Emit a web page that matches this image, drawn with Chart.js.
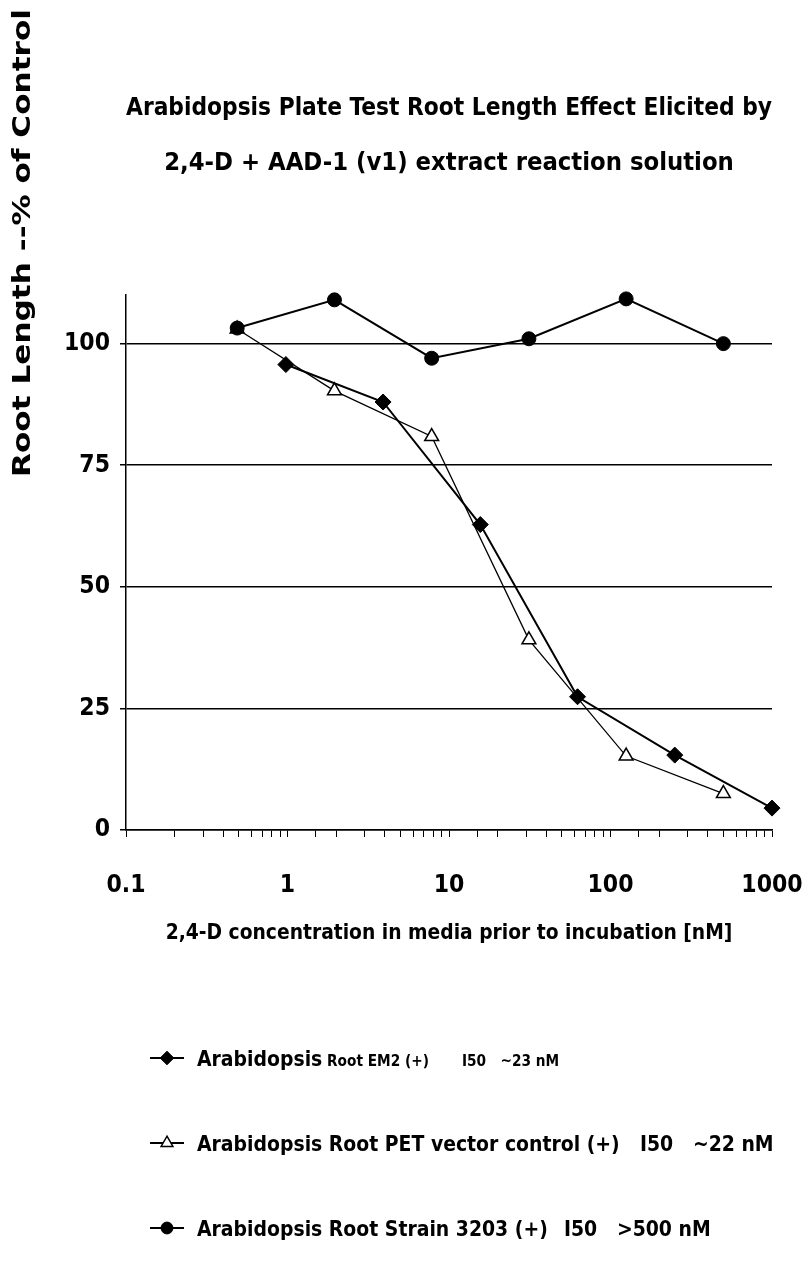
<!DOCTYPE html>
<html><head><meta charset="utf-8">
<script src="https://cdn.jsdelivr.net/npm/chart.js@4"></script>
<style>html,body{margin:0;padding:0;background:#fff}#wrap{width:803px;height:1268px}</style>
</head><body><div id="wrap"><canvas id="c" width="803" height="1268"></canvas></div>
<script>
// ---------- data ----------
const chartTitle = ['Arabidopsis Plate Test Root Length Effect Elicited by', '2,4-D + AAD-1 (v1) extract reaction solution'];
const yAxisTitle = 'Root Length --% of Control';
const xAxisTitle = '2,4-D concentration in media prior to incubation [nM]';
const xTickLabels = ['0.1', '1', '10', '100', '1000'];
const yTickValues = [0, 25, 50, 75, 100];
const seriesNames = ['Arabidopsis Root EM2 (+)', 'Arabidopsis Root PET vector control (+)', 'Arabidopsis Root Strain 3203 (+)'];
const seriesI50 = ['I50   ~23 nM', 'I50   ~22 nM', 'I50   >500 nM'];

const concEM2 = [0.977, 3.906, 15.625, 62.5, 250, 1000];
const rootEM2 = [95.7, 88, 62.8, 27.4, 15.4, 4.5];
const concPET = [0.488, 1.953, 7.8125, 31.25, 125, 500];
const rootPET = [103, 90.3, 80.9, 39.1, 15.2, 7.5];
const concStrain = [0.488, 1.953, 7.8125, 31.25, 125, 500];
const rootStrain = [103.2, 109, 97, 101, 109.2, 100];

// ---------- styling ----------
const NARROW = "'Liberation Sans Narrow','Arial Narrow','DejaVu Sans Condensed',sans-serif";
const pts = (xs, ys) => xs.map((x, i) => ({x: x, y: ys[i]}));
const mctx = document.createElement('canvas').getContext('2d');
function fitSize(text, target, family) {
  mctx.font = 'bold 100px ' + (family || NARROW);
  return 100 * target / mctx.measureText(text).width;
}
const titleSize = fitSize(chartTitle[1], 570);
const xTitleSize = fitSize(xAxisTitle, 567);
const tickSize = fitSize('100', 46);
const legendBig = fitSize(seriesNames[1], 423);
const legendSmall = fitSize('Root EM2 (+)', 102);

const refDecor = {
  id: 'refDecor',
  afterDraw(chart, args, opts) {
    const ctx = chart.ctx;
    // rotated y axis title (stretched along its length like the reference)
    ctx.save();
    ctx.font = 'bold 24px "DejaVu Sans"';
    ctx.fillStyle = '#000';
    const natural = ctx.measureText(yAxisTitle).width;
    ctx.translate(opts.yTitleX, opts.yTitleY);
    ctx.rotate(-Math.PI / 2);
    ctx.scale(opts.yTitleLength / natural, 1);
    ctx.textAlign = 'center';
    ctx.textBaseline = 'middle';
    ctx.fillText(yAxisTitle, 0, 0);
    ctx.restore();

    // legend
    chart.data.datasets.forEach((ds, i) => {
      const y = opts.rowY[i];
      ctx.save();
      ctx.strokeStyle = '#000';
      ctx.lineWidth = 2;
      ctx.beginPath();
      ctx.moveTo(opts.symX0, y);
      ctx.lineTo(opts.symX1, y);
      ctx.stroke();
      ctx.fillStyle = ds.pointBackgroundColor;
      ctx.strokeStyle = '#000';
      ctx.lineWidth = ds.pointBorderWidth;
      Chart.helpers.drawPoint(ctx, {pointStyle: ds.pointStyle, radius: ds.pointRadius * 0.85, borderWidth: ds.pointBorderWidth, rotation: 0}, (opts.symX0 + opts.symX1) / 2, y);
      ctx.fillStyle = '#000';
      ctx.textAlign = 'left';
      ctx.textBaseline = 'alphabetic';
      const base = y + opts.baseOffset;
      const label = ds.label;
      const sp = label.indexOf(' ');
      const first = label.slice(0, sp), rest = label.slice(sp);
      ctx.font = 'bold ' + legendBig + 'px ' + NARROW;
      ctx.fillText(first, opts.textX, base);
      const w = ctx.measureText(first).width;
      const sz = opts.smallRest[i] ? legendSmall : legendBig;
      ctx.font = 'bold ' + sz + 'px ' + NARROW;
      ctx.fillText(rest, opts.textX + w, base);
      ctx.fillText(seriesI50[i], opts.i50X[i], base);
      ctx.restore();
    });
  }
};

const common = {fill: false, tension: 0, borderColor: '#000', pointBorderColor: '#000', clip: false, showLine: true};

new Chart(document.getElementById('c'), {
  type: 'line',
  data: {
    datasets: [
      Object.assign({}, common, {label: seriesNames[0], data: pts(concEM2, rootEM2), borderWidth: 2,
        pointStyle: 'rectRot', pointRadius: 8, pointBackgroundColor: '#000', pointBorderWidth: 1, order: 1}),
      Object.assign({}, common, {label: seriesNames[1], data: pts(concPET, rootPET), borderWidth: 1.3,
        pointStyle: 'triangle', pointRadius: 8, pointBackgroundColor: '#fff', pointBorderWidth: 1.5, order: 2}),
      Object.assign({}, common, {label: seriesNames[2], data: pts(concStrain, rootStrain), borderWidth: 2,
        pointStyle: 'circle', pointRadius: 7, pointBackgroundColor: '#000', pointBorderWidth: 1, order: 0})
    ]
  },
  options: {
    responsive: false,
    animation: false,
    devicePixelRatio: 1,
    layout: {padding: {left: 0, right: 31, top: 0, bottom: 318}},
    plugins: {
      legend: {display: false},
      tooltip: {enabled: false},
      title: {
        display: true, text: chartTitle, color: '#000', fullSize: false,
        font: {family: NARROW, size: titleSize, weight: 'bold', lineHeight: '55px'},
        padding: {top: 80.5, bottom: 104.5}
      },
      refDecor: {
        yTitleX: 24, yTitleY: 243, yTitleLength: 468,
        rowY: [1058, 1143, 1228], symX0: 150, symX1: 184, textX: 197, baseOffset: 8,
        smallRest: [true, false, false], i50X: [462, 640, 564]
      }
    },
    scales: {
      x: {
        type: 'logarithmic', min: 0.1, max: 1000,
        afterFit: (s) => { s.height = 120; s.paddingLeft = 0; s.paddingRight = 0; },
        grid: {display: true, drawOnChartArea: false, drawTicks: true, tickLength: 7, color: '#000', lineWidth: 1},
        border: {display: true, color: '#000', width: 1.5},
        ticks: {
          autoSkip: false, maxRotation: 0, padding: 49 - tickSize * 0.6, color: '#000',
          font: {family: NARROW, size: tickSize, weight: 'bold'},
          callback: (v) => { const s = String(v); return xTickLabels.includes(s) ? s : ''; }
        },
        title: {display: true, text: xAxisTitle, color: '#000', padding: {top: 0, bottom: Math.max(0, 16 - xTitleSize * 0.6)},
          font: {family: NARROW, size: xTitleSize, weight: 'bold'}}
      },
      y: {
        type: 'linear', min: 0, max: 110,
        afterFit: (s) => { s.width = 126; },
        afterBuildTicks: (s) => { s.ticks = yTickValues.map(v => ({value: v})); },
        grid: {color: '#000', lineWidth: 1.5, tickLength: 6, drawTicks: true},
        border: {display: true, color: '#000', width: 1.5},
        ticks: {padding: 10, color: '#000', font: {family: NARROW, size: tickSize, weight: 'bold'},
          callback: (v) => String(v)}
      }
    }
  },
  plugins: [refDecor]
});
</script>
</body></html>
